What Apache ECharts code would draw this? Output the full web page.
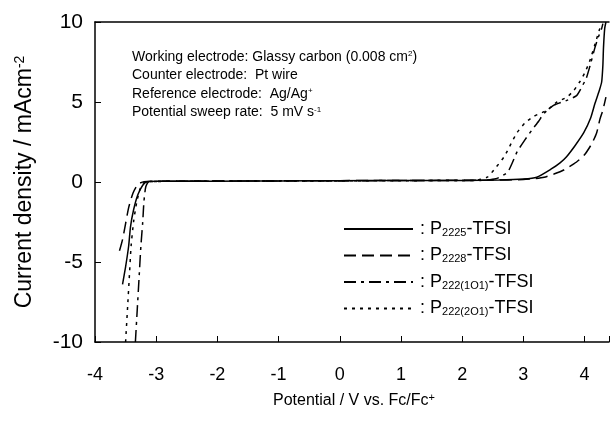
<!DOCTYPE html>
<html>
<head>
<meta charset="utf-8">
<script src="https://cdn.jsdelivr.net/npm/echarts@6/dist/echarts.min.js"></script>
<style>
  html, body { margin: 0; padding: 0; background: #fff; }
  #main { width: 612px; height: 428px; }
</style>
</head>
<body>
<div id="main"></div>
<script>
// potential (V vs Fc/Fc+) , current density (mA cm-2)
const p2225 = [
  [-3.55, -6.4], [-3.5, -5.3], [-3.45, -4.0], [-3.42, -2.8], [-3.37, -1.75], [-3.3, -0.8],
  [-3.22, -0.2], [-3.15, 0.02], [-3.0, 0.05], [-2.0, 0.05], [-1.0, 0.07], [0, 0.08],
  [1.0, 0.1], [2.0, 0.1], [2.6, 0.12], [3.0, 0.18], [3.22, 0.3], [3.45, 0.8], [3.6, 1.2],
  [3.71, 1.6], [3.85, 2.3], [3.99, 3.1], [4.1, 4.0], [4.17, 4.9], [4.24, 5.7], [4.28, 6.25],
  [4.3, 7.3], [4.31, 8.4], [4.33, 9.6], [4.35, 10]
]
const p2228 = [
  [-3.6, -4.3], [-3.55, -3.6], [-3.5, -2.6], [-3.45, -1.6], [-3.38, -0.7], [-3.3, -0.15],
  [-3.2, 0.02], [-2.5, 0.06], [-1.5, 0.06], [-0.5, 0.08], [0.5, 0.09], [1.5, 0.1],
  [2.5, 0.12], [3.0, 0.15], [3.2, 0.22], [3.34, 0.3], [3.5, 0.5], [3.66, 0.75], [3.87, 1.25],
  [4.0, 1.7], [4.12, 2.4], [4.2, 3.1], [4.25, 3.9], [4.3, 4.5], [4.35, 5.3]
]
const p222_1O1 = [
  [-3.34, -10], [-3.31, -8], [-3.28, -6], [-3.25, -4], [-3.22, -2.5], [-3.2, -1.2],
  [-3.17, -0.3], [-3.12, 0.02], [-2.0, 0.06], [-1.0, 0.07], [0, 0.08], [1.0, 0.09],
  [2.0, 0.1], [2.3, 0.1], [2.55, 0.2], [2.74, 0.6], [2.82, 1.2], [2.9, 1.9], [3.02, 2.6],
  [3.14, 3.25], [3.25, 3.8], [3.34, 4.3], [3.5, 4.8], [3.71, 5.1], [3.87, 5.4], [3.95, 5.9],
  [4.03, 6.5], [4.1, 7.4], [4.17, 8.4], [4.22, 9.0], [4.28, 9.6], [4.3, 9.9]
]
const p222_2O1 = [
  [-3.5, -10], [-3.47, -8], [-3.44, -6], [-3.41, -4], [-3.37, -2.5], [-3.32, -1.3],
  [-3.26, -0.4], [-3.18, 0.02], [-2.0, 0.05], [-1.0, 0.06], [0, 0.07], [1.0, 0.08],
  [2.0, 0.1], [2.2, 0.1], [2.41, 0.3], [2.55, 0.9], [2.69, 1.6], [2.8, 2.4], [2.9, 3.1],
  [3.03, 3.7], [3.17, 4.1], [3.39, 4.5], [3.55, 5.0], [3.71, 5.3], [3.82, 5.7], [3.92, 6.25],
  [4.0, 6.8], [4.08, 7.5], [4.17, 8.6], [4.25, 9.6], [4.28, 9.9]
]

const seriesNames = ['P2225', 'P2228', 'P222(1O1)', 'P222(2O1)']
const seriesData = [p2225, p2228, p222_1O1, p222_2O1]
const dashTypes = ['solid', [12, 6], [12, 5, 3, 5], [3, 5]]

const notes = [
  'Working electrode: Glassy carbon (0.008 cm{sup|2})',
  'Counter electrode:  Pt wire',
  'Reference electrode:  Ag/Ag{sup|+}',
  'Potential sweep rate:  5 mV s{sup|-1}'
]

const FONT = 'Liberation Sans, Arial, sans-serif'
const supStyle = { fontSize: 11, lineHeight: 11, padding: [0, 0, 10, 0], verticalAlign: 'top' }
const subStyle = { fontSize: 11, lineHeight: 11, padding: [11, 0, 0, 0], verticalAlign: 'bottom' }

const chart = echarts.init(document.getElementById('main'), null, { renderer: 'canvas' })

const option = {
  backgroundColor: '#fff',
  animation: false,
  textStyle: { fontFamily: FONT, color: '#000' },
  grid: { left: 95, right: 0, top: 22, bottom: 86 },
  legend: {
    orient: 'vertical',
    left: 338,
    top: 211,
    itemWidth: 69,
    itemHeight: 14,
    itemGap: 4.5,
    selectedMode: false,
    data: seriesNames,
    itemStyle: { opacity: 0 },
    formatter: name => ': P{sub|' + name.slice(1) + '}-TFSI',
    textStyle: {
      fontSize: 18,
      color: '#000',
      fontFamily: FONT,
      lineHeight: 18,
      padding: [0, 0, 0, 2],
      rich: { sub: subStyle }
    }
  },
  graphic: notes.map((t, i) => ({
    type: 'text',
    left: 132,
    top: 50 + i * 18.5,
    style: {
      text: t,
      font: '14px ' + FONT,
      fill: '#000',
      rich: { sup: { fontSize: 8, lineHeight: 8, padding: [0, 0, 7, 0], verticalAlign: 'top' } }
    }
  })),
  xAxis: [{
    type: 'value',
    min: -4,
    max: 4.4,
    interval: 1,
    name: 'Potential / V vs. Fc/Fc{sup|+}',
    nameLocation: 'middle',
    nameGap: 50,
    nameTextStyle: {
      fontSize: 16, color: '#000', fontFamily: FONT, lineHeight: 18,
      padding: [0, 0, 0, 4], rich: { sup: supStyle }
    },
    axisLine: { onZero: false, lineStyle: { color: '#000', width: 1.5 } },
    axisTick: { inside: true, length: 6, lineStyle: { color: '#000' } },
    axisLabel: {
      fontSize: 18, color: '#000', margin: 24,
      formatter: v => (Number.isInteger(v) ? String(v) : '')
    },
    splitLine: { show: false }
  }, {
    type: 'value',
    position: 'top',
    min: -4,
    max: 4.4,
    axisLine: { show: true, onZero: false, lineStyle: { color: '#000', width: 1.5 } },
    axisTick: { show: false },
    axisLabel: { show: false },
    splitLine: { show: false }
  }],
  yAxis: {
    type: 'value',
    min: -10,
    max: 10,
    interval: 5,
    name: 'Current density / mAcm{sup|-2}',
    nameLocation: 'middle',
    nameRotate: 90,
    nameGap: 58,
    nameTextStyle: {
      fontSize: 23, color: '#000', fontFamily: FONT, lineHeight: 24,
      rich: { sup: { fontSize: 14, lineHeight: 14, padding: [0, 0, 12, 0], verticalAlign: 'top' } }
    },
    axisLine: { show: true, onZero: false, lineStyle: { color: '#000', width: 1.5 } },
    axisTick: { show: true, inside: true, length: 6, lineStyle: { color: '#000' } },
    axisLabel: { fontSize: 21, color: '#000', margin: 12 },
    splitLine: { show: false }
  },
  series: seriesNames.map((name, i) => ({
    name: name,
    type: 'line',
    data: seriesData[i],
    showSymbol: false,
    symbol: 'none',
    smooth: 0.2,
    clip: true,
    lineStyle: { color: '#000', width: 1.5, type: dashTypes[i] },
    itemStyle: { color: '#000' }
  }))
}

chart.setOption(option)
</script>
</body>
</html>
